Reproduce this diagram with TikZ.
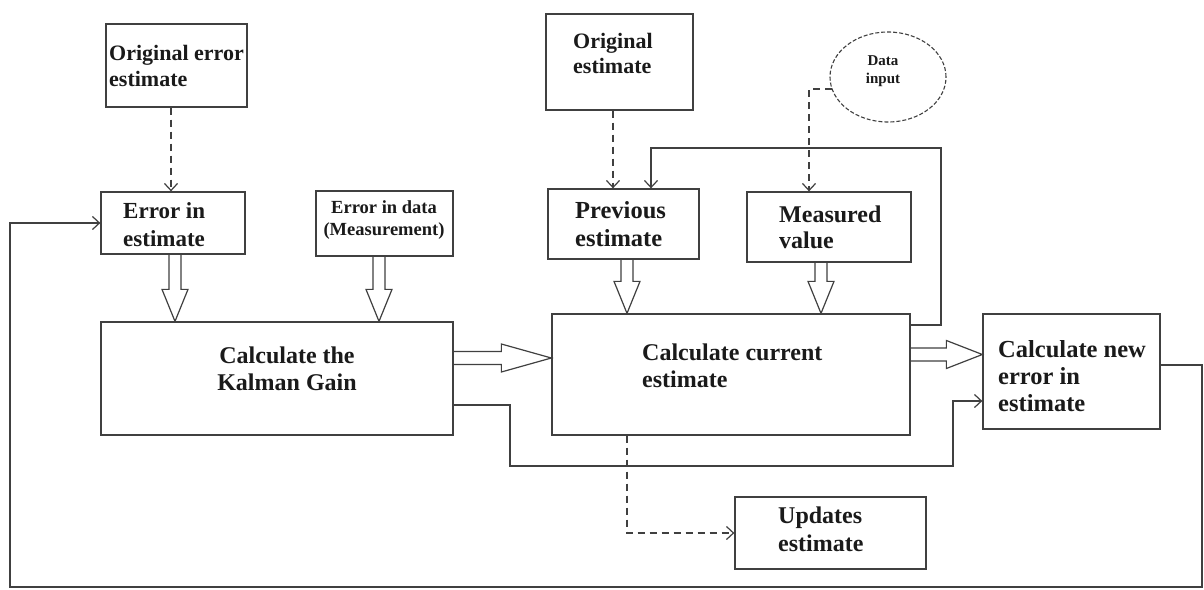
\documentclass[tikz,border=0pt]{standalone}
\usepackage{fontspec}
\setmainfont{Liberation Serif}
\usetikzlibrary{arrows.meta,calc,shapes.geometric}
\definecolor{ln}{HTML}{404040}
\definecolor{tx}{HTML}{1A1A1A}
\tikzset{
 box/.style={draw=ln, line width=1.3pt, rectangle, inner sep=0pt},
 lbl/.style={text=tx, inner sep=0pt, font=\bfseries, align=left},
 conn/.style={draw=ln, line width=1.2pt, -{Straight Barb[length=7pt,width=13pt]}},
 dconn/.style={conn, dash pattern=on 7pt off 5pt},
 hollow/.style={draw=ln, line width=1.2pt, line join=miter},
}
\newcommand\hollowdown[2]{\draw[hollow] let \p1=(#1), \p2=(#2) in (\x1-6pt,\y1) -- (\x1-6pt,\y2+32pt) -- (\x1-13pt,\y2+32pt) -- (\x1,\y2) -- (\x1+13pt,\y2+32pt) -- (\x1+6pt,\y2+32pt) -- (\x1+6pt,\y1);}
\newcommand\hollowright[3]{\draw[hollow] let \p1=(#1), \p2=(#2) in (\x1,\y1+6.5pt) -- (\x2-#3,\y1+6.5pt) -- (\x2-#3,\y1+14pt) -- (\x2,\y1) -- (\x2-#3,\y1-14pt) -- (\x2-#3,\y1-6.5pt) -- (\x1,\y1-6.5pt);}
\begin{document}
\begin{tikzpicture}[x=1pt,y=-1pt]
\fill[white] (0,0) rectangle (1204,589);
\useasboundingbox (0,0) rectangle (1204,589);
% boxes
\node[box, minimum width=141pt, minimum height=83pt] (oee) at (176.5,65.5) {};
\node[box, minimum width=144pt, minimum height=62pt] (eie) at (173,223) {};
\node[box, minimum width=137pt, minimum height=65pt] (eid) at (384.5,223.5) {};
\node[box, minimum width=352pt, minimum height=113pt] (kal) at (277,378.5) {};
\node[box, minimum width=147pt, minimum height=96pt] (oe) at (619.5,62) {};
\node[box, ellipse, dash pattern=on 4pt off 2pt, line width=1.1pt, minimum width=116pt, minimum height=90pt] (din) at (888,77) {};
\node[box, minimum width=151pt, minimum height=70pt] (prev) at (623.5,224) {};
\node[box, minimum width=164pt, minimum height=70pt] (meas) at (829,227) {};
\node[box, minimum width=358pt, minimum height=121pt] (cur) at (731,374.5) {};
\node[box, minimum width=177pt, minimum height=115pt] (nerr) at (1071.5,371.5) {};
\node[box, minimum width=191pt, minimum height=72pt] (upd) at (830.5,533) {};
% labels (anchored at the baseline of their last line)
\node[lbl, anchor=base west, font=\bfseries\fontsize{22}{26}\selectfont] (toee) at (109,86) {Original error\\estimate};
\node[lbl, anchor=base west, font=\bfseries\fontsize{23}{28}\selectfont] (teie) at (123,246) {Error in\\estimate};
\node[lbl, anchor=base, align=center, font=\bfseries\fontsize{18.5}{22}\selectfont] (teid) at (384,235) {Error in data\\(Measurement)};
\node[lbl, anchor=base, align=center, font=\bfseries\fontsize{24}{27}\selectfont] (tkal) at (287,390) {Calculate the\\Kalman Gain};
\node[lbl, anchor=base west, font=\bfseries\fontsize{22}{25}\selectfont] (toe) at (573,73) {Original\\estimate};
\node[lbl, anchor=base, align=center, font=\bfseries\fontsize{15}{18}\selectfont] (tdin) at (883,83) {Data\\input};
\node[lbl, anchor=base west, font=\bfseries\fontsize{24.5}{28}\selectfont] (tprev) at (575,246) {Previous\\estimate};
\node[lbl, anchor=base west, font=\bfseries\fontsize{24}{26}\selectfont] (tmeas) at (779,248) {Measured\\value};
\node[lbl, anchor=base west, font=\bfseries\fontsize{24}{27}\selectfont] (tcur) at (642,387) {Calculate current\\estimate};
\node[lbl, anchor=base west, font=\bfseries\fontsize{24.5}{27}\selectfont] (tnerr) at (998,411) {Calculate new\\error in\\estimate};
\node[lbl, anchor=base west, font=\bfseries\fontsize{24}{28}\selectfont] (tupd) at (778,551) {Updates\\estimate};
% coordinates
\coordinate (oees) at ([xshift=-5.5pt]oee.south);
\coordinate (oes) at ([xshift=-6.5pt]oe.south);
\coordinate (mtop) at ([xshift=-20pt]meas.north);
\coordinate (ptop) at ([xshift=27.5pt]prev.north);
\coordinate (curs) at ([xshift=-104pt]cur.south);
\coordinate (r1) at (1202,587);
\coordinate (l1) at (10,587);
\coordinate (k1) at (510,466);
\coordinate (k2) at (953,466);
\coordinate (f1) at (941,148);
% dashed connectors
\draw[dconn] (oees) -- (oees |- eie.north);
\draw[dconn] (oes) -- (oes |- prev.north);
\draw[dconn] (din.192) -| (mtop);
\draw[dconn] (curs) |- (upd.west);
% thin connectors
\draw[conn] ([yshift=6.5pt]nerr.east) -| (r1) -- (l1) |- (eie.west);
\draw[conn] ([yshift=-26.5pt]kal.east) -| (k1) -- (k2) |- ([yshift=-29.5pt]nerr.west);
\draw[conn] ([yshift=49.5pt]cur.east) -| (f1) -| (ptop);
% hollow arrows
\hollowdown{[xshift=2pt]eie.south}{[xshift=2pt]eie.south |- kal.north}
\hollowdown{[xshift=-5.5pt]eid.south}{[xshift=-5.5pt]eid.south |- kal.north}
\hollowdown{[xshift=3.5pt]prev.south}{[xshift=3.5pt]prev.south |- cur.north}
\hollowdown{[xshift=-8pt]meas.south}{[xshift=-8pt]meas.south |- cur.north}
\hollowright{[yshift=20.5pt]kal.east}{cur.west}{50pt}
\hollowright{[yshift=20pt]cur.east}{nerr.west}{36pt}
\end{tikzpicture}
\end{document}
